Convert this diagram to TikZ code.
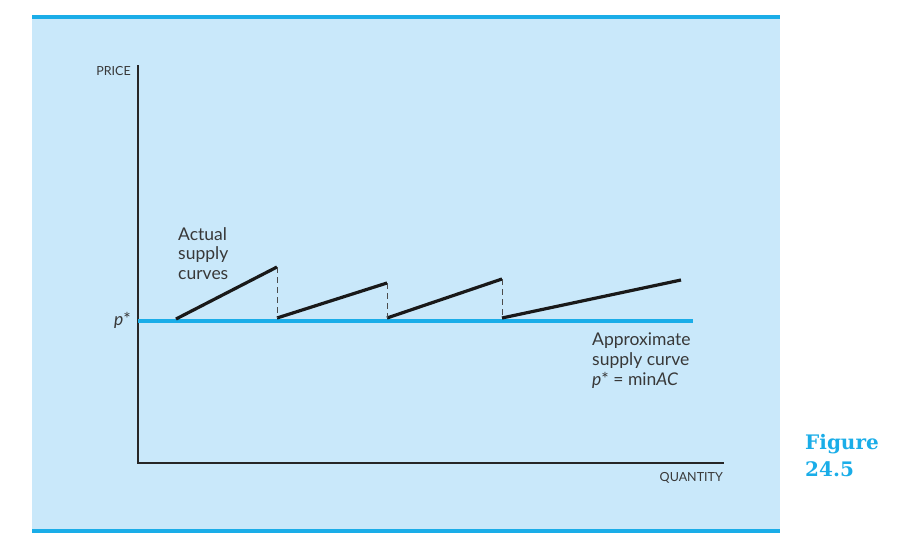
\documentclass[tikz,border=0pt]{standalone}
\usepackage{fontspec}
\setmainfont{Lato}
\newfontfamily\figfont{DejaVu Serif}
\usepackage{xcolor}
\definecolor{panelbg}{HTML}{C9E8FA}
\definecolor{rulecolor}{HTML}{1AADE8}
\definecolor{textgray}{HTML}{383838}

\begin{document}
\begin{tikzpicture}[x=1pt,y=-1pt,
    axislabel/.style={font=\fontsize{12.5}{14}\selectfont,text=textgray,inner sep=0pt},
    curvelabel/.style={font=\fontsize{17.5}{19.8}\selectfont,text=textgray,align=left,inner sep=0pt},
    supply/.style={line width=3.2pt,black!90},
    jump/.style={dash pattern=on 6pt off 4pt,line width=1pt,black!70}]
    \useasboundingbox (0,0) rectangle (902,538);
    \fill[panelbg] (32,17) rectangle (780,532);
    \draw[rulecolor,line width=3.5pt] (32,17) -- (780,17);
    \draw[rulecolor,line width=3.5pt] (32,531) -- (780,531);

    \coordinate (origin) at (138,463);
    \coordinate (ytop) at (138,65);
    \coordinate (xend) at (724,463);
    \draw[line width=2pt,black!85] (ytop) -- (origin) -- (xend);
    \node [axislabel,anchor=north east] (price) at (131,66) {PRICE};
    \node [axislabel,anchor=north east] (quantity) at (723,472) {QUANTITY};

    \coordinate (pstart) at (138,321);
    \coordinate (pend) at (693,321);
    \draw[rulecolor,line width=3.4pt] (pstart) -- (pend);
    \node [font=\fontsize{17.5}{20}\selectfont,text=textgray,anchor=east,inner sep=0pt] (pstar) at (131,320) {\textit{p}*};

    \coordinate (a1) at (176,319);
    \coordinate (a2) at (277,267);
    \coordinate (b1) at (277,318);
    \coordinate (b2) at (387,283);
    \coordinate (c1) at (387,318);
    \coordinate (c2) at (502,279);
    \coordinate (d1) at (502,318);
    \coordinate (d2) at (681,280);
    \draw[supply] (a1) -- (a2);
    \draw[supply] (b1) -- (b2);
    \draw[supply] (c1) -- (c2);
    \draw[supply] (d1) -- (d2);
    \draw[jump] (a2) -- (b1);
    \draw[jump] (b2) -- (c1);
    \draw[jump] (c2) -- (d1);

    \node [curvelabel,anchor=north west] (actual) at (178,227) {Actual\\supply\\curves};
    \node [curvelabel,anchor=north west] (approx) at (592,333) {Approximate\\supply curve\\\textit{p}* = min\textit{AC}};

    \node [font=\figfont\bfseries\fontsize{20}{27}\selectfont,text=rulecolor,align=left,anchor=north west,inner sep=0pt] (figlabel) at (805,434) {Figure\\24.5};
\end{tikzpicture}
\end{document}
